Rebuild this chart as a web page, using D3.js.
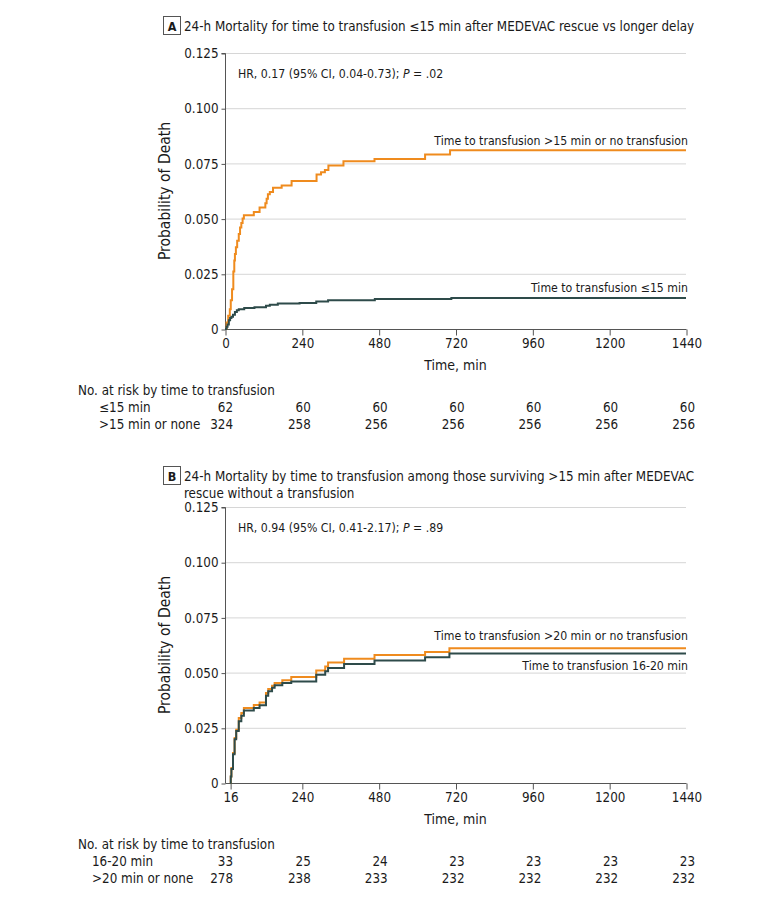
<!DOCTYPE html>
<html>
<head>
<meta charset="utf-8">
<script src="https://cdn.jsdelivr.net/npm/d3@7"></script>
<style>
  html, body { margin: 0; padding: 0; background: #fff; }
  svg text { font-family: "Liberation Sans Narrow", "DejaVu Sans Condensed", Roboto, sans-serif; fill: #1a1a1a; }
</style>
</head>
<body>
<svg id="chart" width="780" height="897"></svg>
<script>
// ---------- DATA ----------
const yTickValues = [0, 0.025, 0.050, 0.075, 0.100, 0.125];
const yTickLabels = ["0", "0.025", "0.050", "0.075", "0.100", "0.125"];
const xTicksA = [0, 240, 480, 720, 960, 1200, 1440];
const xTicksB = [16, 240, 480, 720, 960, 1200, 1440];

// Panel A: cumulative probability of death (time in min, probability)
const aLate = [[0,0],[5,0.003],[10,0.006],[15,0.009],[18,0.013],[22,0.018],[26,0.026],[29,0.031],[31,0.034],[34,0.037],[38,0.040],[43,0.043],[47,0.046],[51,0.048],[55,0.050],[59,0.0515],[90,0.053],[108,0.055],[126,0.057],[130,0.059],[134,0.061],[140,0.062],[150,0.064],[177,0.065],[208,0.067],[286,0.070],[300,0.071],[312,0.072],[323,0.074],[370,0.076],[467,0.077],[625,0.079],[703,0.081]];
const aEarly = [[0,0],[5,0.001],[8,0.002],[12,0.004],[16,0.005],[20,0.0055],[25,0.0065],[31,0.0077],[37,0.0085],[43,0.009],[60,0.0095],[92,0.0098],[128,0.0105],[140,0.011],[165,0.0115],[233,0.0118],[285,0.0124],[322,0.013],[468,0.0136],[707,0.014]];

// Panel B
const bLate = [[16,0],[18,0.003],[20,0.0068],[25,0.0136],[30,0.0204],[35,0.0241],[43,0.0294],[51,0.0317],[59,0.034],[90,0.0353],[108,0.0365],[128,0.0408],[135,0.0426],[147,0.0441],[155,0.0453],[179,0.0465],[207,0.048],[285,0.051],[313,0.0528],[322,0.0546],[372,0.0563],[467,0.058],[625,0.0593],[701,0.061]];
const bMid = [[16,0],[18,0.003],[20,0.0063],[25,0.013],[30,0.0198],[35,0.0236],[43,0.028],[51,0.0305],[59,0.0328],[90,0.034],[108,0.0352],[128,0.0395],[135,0.0415],[147,0.0431],[155,0.0443],[179,0.0453],[207,0.046],[285,0.049],[313,0.0506],[322,0.0521],[372,0.0539],[467,0.0555],[625,0.0569],[701,0.0586]];

const riskA_early = [62, 60, 60, 60, 60, 60, 60];
const riskA_late = [324, 258, 256, 256, 256, 256, 256];
const riskB_mid = [33, 25, 24, 23, 23, 23, 23];
const riskB_late = [278, 238, 233, 232, 232, 232, 232];

const ORANGE = "#EF8B1E";
const TEAL = "#2E4B4A";

// ---------- DRAW ----------
const svg = d3.select("#chart");
const x = d3.scaleLinear().domain([0, 1440]).range([225, 686]);

function panel(opts) {
  const y = d3.scaleLinear().domain([0, 0.125]).range([opts.y0, opts.y0 - 276]);
  const g = svg.append("g");

  // panel letter box
  g.append("rect").attr("x", 163.5).attr("y", opts.titleY - 14.5).attr("width", 17).attr("height", 18)
    .attr("fill", "#fff").attr("stroke", "#555").attr("stroke-width", 1);
  g.append("text").attr("x", 172).attr("y", opts.titleY).attr("text-anchor", "middle")
    .attr("font-size", 12.5).attr("font-weight", "bold").text(opts.letter);
  opts.title.forEach((t, i) => {
    g.append("text").attr("x", 184).attr("y", opts.titleY + i * 17).attr("font-size", 13.3).text(t);
  });

  // gridlines
  g.selectAll(".grid").data(yTickValues.filter(d => d > 0)).join("line")
    .attr("x1", x(0)).attr("x2", x(1440)).attr("y1", d => y(d) + 0.5).attr("y2", d => y(d) + 0.5)
    .attr("stroke", "#d6d6d6").attr("stroke-width", 1);

  // y axis
  const yAxis = d3.axisLeft(y).tickValues(yTickValues).tickFormat((d, i) => yTickLabels[i]).tickSize(4).tickPadding(3);
  const ya = g.append("g").attr("transform", `translate(${x(0) + 0.5},0.5)`).call(yAxis);
  ya.attr("font-family", null).attr("font-size", null);
  ya.select(".domain").attr("stroke", "#555").attr("d", `M-4,${y(0.125)}H0V${y(0)}`);
  ya.selectAll(".tick line").attr("stroke", "#555");
  ya.selectAll(".tick text").attr("font-size", 13.3).attr("fill", "#1a1a1a");

  // x axis
  const xAxis = d3.axisBottom(x).tickValues(opts.xTicks).tickFormat(d3.format("d")).tickSize(6).tickPadding(3);
  const xa = g.append("g").attr("transform", `translate(0.5,${y(0) + 0.5})`).call(xAxis);
  xa.attr("font-family", null).attr("font-size", null);
  xa.select(".domain").attr("stroke", "#555").attr("d", `M${x(0)},0H${x(1440)}`);
  xa.selectAll(".tick line").attr("stroke", "#555");
  xa.selectAll(".tick text").attr("font-size", 13.3).attr("fill", "#1a1a1a");

  g.append("text").attr("x", x(720)).attr("y", y(0) + 41).attr("text-anchor", "middle").attr("font-size", 14).text("Time, min");
  g.append("text").attr("transform", `translate(170,${y(0.0625)}) rotate(-90)`).attr("text-anchor", "middle")
    .attr("font-size", 15.5).text("Probability of Death");

  // HR
  const hr = g.append("text").attr("x", 238).attr("y", y(0.1135)).attr("font-size", 12.2);
  hr.append("tspan").text(opts.hr);
  hr.append("tspan").attr("font-style", "italic").text("P");
  hr.append("tspan").text(opts.p);

  // curves
  const line = d3.line().x(d => x(d[0])).y(d => y(d[1])).curve(d3.curveStepAfter);
  opts.series.forEach(s => {
    const pts = s.data.concat([[1440, s.data[s.data.length - 1][1]]]);
    g.append("path").attr("d", line(pts)).attr("fill", "none").attr("stroke", s.color).attr("stroke-width", 2);
    g.append("text").attr("x", 688).attr("y", y(s.labelY)).attr("text-anchor", "end").attr("font-size", 12.2).text(s.label);
  });

  // at-risk table
  const ty = y(0) + 66;
  g.append("text").attr("x", 78).attr("y", ty).attr("font-size", 13.3).text("No. at risk by time to transfusion");
  opts.risk.forEach((r, i) => {
    const rowY = ty + 17 * (i + 1);
    g.append("text").attr("x", opts.rowX).attr("y", rowY).attr("font-size", 13.3).text(r.name);
    g.selectAll(null).data(r.values).join("text")
      .attr("x", (d, j) => x(xTicksA[j]) + (j === 0 ? 8 : 9)).attr("y", rowY)
      .attr("text-anchor", "end").attr("font-size", 13.3).text(d => d);
  });
}

panel({
  letter: "A", titleY: 31, y0: 329, xTicks: xTicksA,
  title: ["24-h Mortality for time to transfusion \u226415 min after MEDEVAC rescue vs longer delay"],
  hr: "HR, 0.17 (95% CI, 0.04-0.73); ", p: " = .02",
  series: [
    { data: aLate, color: ORANGE, label: "Time to transfusion >15 min or no transfusion", labelY: 0.0835 },
    { data: aEarly, color: TEAL, label: "Time to transfusion \u226415 min", labelY: 0.0169 }
  ],
  rowX: 99,
  risk: [ { name: "\u226415 min", values: riskA_early }, { name: ">15 min or none", values: riskA_late } ]
});

panel({
  letter: "B", titleY: 481, y0: 783, xTicks: xTicksB,
  title: ["24-h Mortality by time to transfusion among those surviving >15 min after MEDEVAC", "rescue without a transfusion"],
  hr: "HR, 0.94 (95% CI, 0.41-2.17); ", p: " = .89",
  series: [
    { data: bLate, color: ORANGE, label: "Time to transfusion >20 min or no transfusion", labelY: 0.0646 },
    { data: bMid, color: TEAL, label: "Time to transfusion 16-20 min", labelY: 0.0512 }
  ],
  rowX: 92,
  risk: [ { name: "16-20 min", values: riskB_mid }, { name: ">20 min or none", values: riskB_late } ]
});
</script>
</body>
</html>
